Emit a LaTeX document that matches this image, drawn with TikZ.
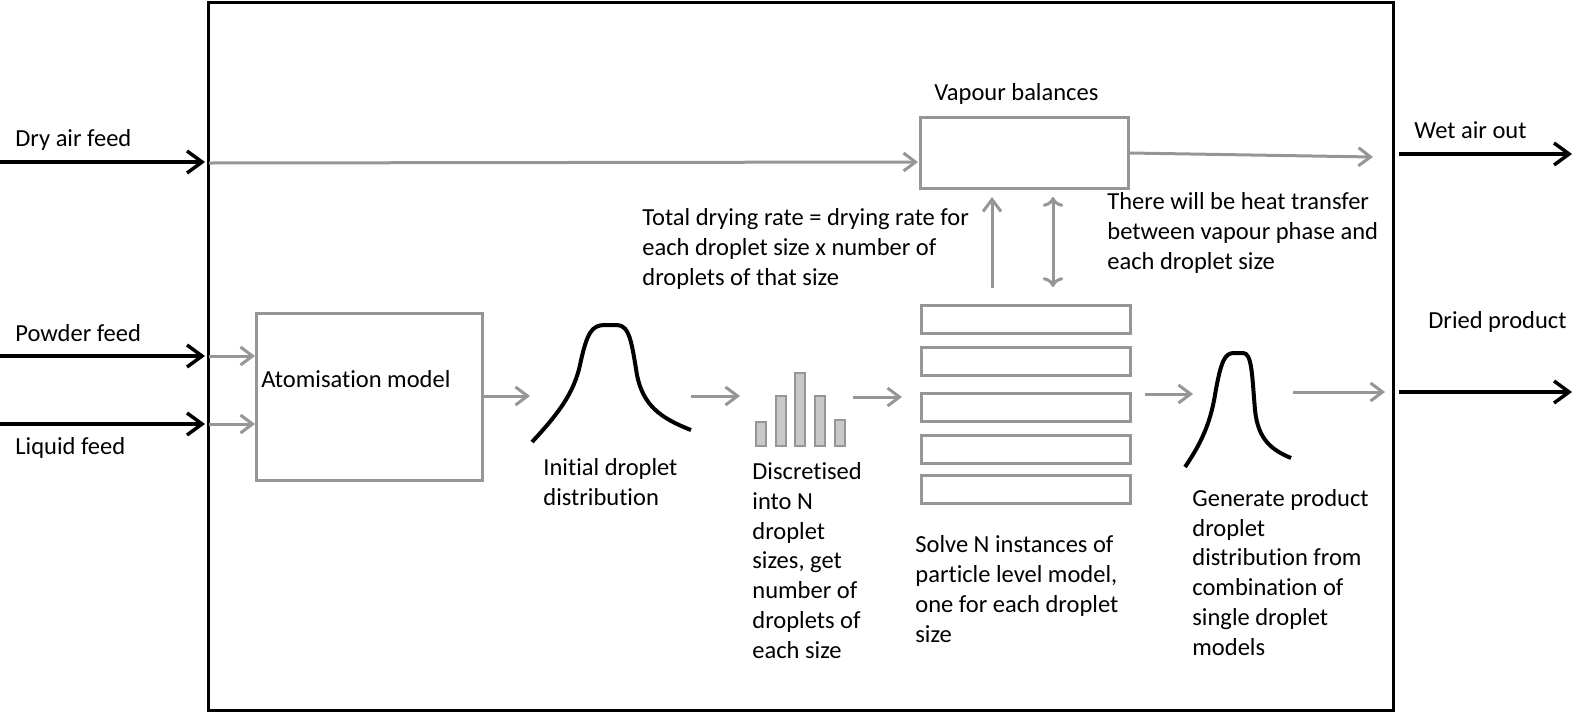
\documentclass[tikz,border=0pt]{standalone}
\usepackage{fontspec}
\setmainfont[Ligatures={NoCommon}]{Carlito}
\usetikzlibrary{arrows.meta}
\definecolor{flowgrey}{RGB}{150,150,150}
\definecolor{barfill}{RGB}{200,200,200}

\begin{document}
\begin{tikzpicture}[x=0.5pt,y=-0.5pt,
	every node/.style={font=\fontsize{12.25pt}{14.85pt}\selectfont, inner sep=0pt, anchor=base west, align=left},
	feed/.style={line width=1.75pt, -{Straight Barb[length=7.5pt,width=11pt]}},
	flow/.style={flowgrey, line width=1.5pt, -{Straight Barb[length=6pt,width=9pt]}},
	unit/.style={flowgrey, line width=1.5pt},
	bell/.style={line width=2pt}]

		\useasboundingbox (0,0) rectangle (1591,713);

		\coordinate (F1) at (208,2) ;
		\coordinate (F2) at (1393,710) ;
		
		\coordinate (DryA) at (0,162) ;
		\coordinate (DryB) at (205,162) ;
		\coordinate (PowA) at (0,356) ;
		\coordinate (PowB) at (205,356) ;
		\coordinate (LiqA) at (0,424) ;
		\coordinate (LiqB) at (205,424) ;
		\coordinate (WetA) at (1399,154) ;
		\coordinate (WetB) at (1572,154) ;
		\coordinate (ProdA) at (1399,392) ;
		\coordinate (ProdB) at (1572,392) ;
		
		\coordinate (V1) at (920,117) ;
		\coordinate (V2) at (1128,188) ;
		\coordinate (A1) at (256,313) ;
		\coordinate (A2) at (482,480) ;
		
		\draw [line width=1.5pt] (F1) rectangle (F2);
		
		% feeds in and out
		\draw [feed] (DryA) -- (DryB);
		\draw [feed] (PowA) -- (PowB);
		\draw [feed] (LiqA) -- (LiqB);
		\draw [feed] (WetA) -- (WetB);
		\draw [feed] (ProdA) -- (ProdB);
		
		\node (dry) at (15,146) {Dry air feed};
		\node (powder) at (15,341) {Powder feed};
		\node (liquid) at (15,454) {Liquid feed};
		\node (wet) at (1414,138) {Wet air out};
		\node (dried) at (1428,328) {Dried product};
		
		% boxes
		\draw [unit] (V1) rectangle (V2);
		\node (vapour) at (934,100) {Vapour balances};
		\draw [unit] (A1) rectangle (A2);
		\node (atom) at (261,387) {Atomisation model};
		
		\draw [flow] (209,163) -- (918,162);
		\draw [flow] (1130,153) -- (1373,157);
		\draw [flow] (209,356) -- (255,356);
		\draw [flow] (209,424) -- (255,424);
		\draw [flow] (483,396) -- (530,396);
		\draw [flow] (691,396) -- (740,396);
		\draw [flow] (853,397) -- (902,397);
		\draw [flow] (1145,394) -- (1193,394);
		\draw [flow] (1293,392) -- (1385,392);
		\draw [flow] (992,288) -- (992,197);
		\draw [flow, <->] (1053,197) -- (1053,287);
		
		% initial distribution
		\draw [bell] (532,442) .. controls (560,412) and (574,392) .. (580,365)
			.. controls (587,332) and (592,325) .. (605,325) -- (617,325)
			.. controls (630,325) and (632,345) .. (637,375)
			.. controls (643,405) and (660,418) .. (691,430);
		\node (initial) at (543,505) {Initial droplet\\distribution};
		
		% discretised sizes
		\foreach \x/\t in {756/422, 776/396, 795/373, 815/396, 835/420}
			\draw [flowgrey, fill=barfill, line width=0.6pt] (\x,\t) rectangle ++(10,446-\t);
		\node (discrete) at (752,658) {Discretised\\into N\\droplet\\sizes, get\\number of\\droplets of\\each size};
		
		% one model per size
		\foreach \t in {305,347,393,435,475}
			\draw [unit] (921,\t) rectangle ++(209,28);
		\node (solve) at (915,642) {Solve N instances of\\particle level model,\\one for each droplet\\size};
		
		\node (total) at (642,285) {Total drying rate = drying rate for\\each droplet size x number of\\droplets of that size};
		\node (heat) at (1107,269) {There will be heat transfer\\between vapour phase and\\each droplet size};
		
		% product distribution
		\draw [bell] (1185,467) .. controls (1200,445) and (1210,425) .. (1215,395)
			.. controls (1221,360) and (1225,353) .. (1234,353) -- (1243,353)
			.. controls (1252,353) and (1252,375) .. (1255,410)
			.. controls (1258,440) and (1272,450) .. (1291,458);
		\node (generate) at (1192,655) {Generate product\\droplet\\distribution from\\combination of\\single droplet\\models};
\end{tikzpicture}
\end{document}
